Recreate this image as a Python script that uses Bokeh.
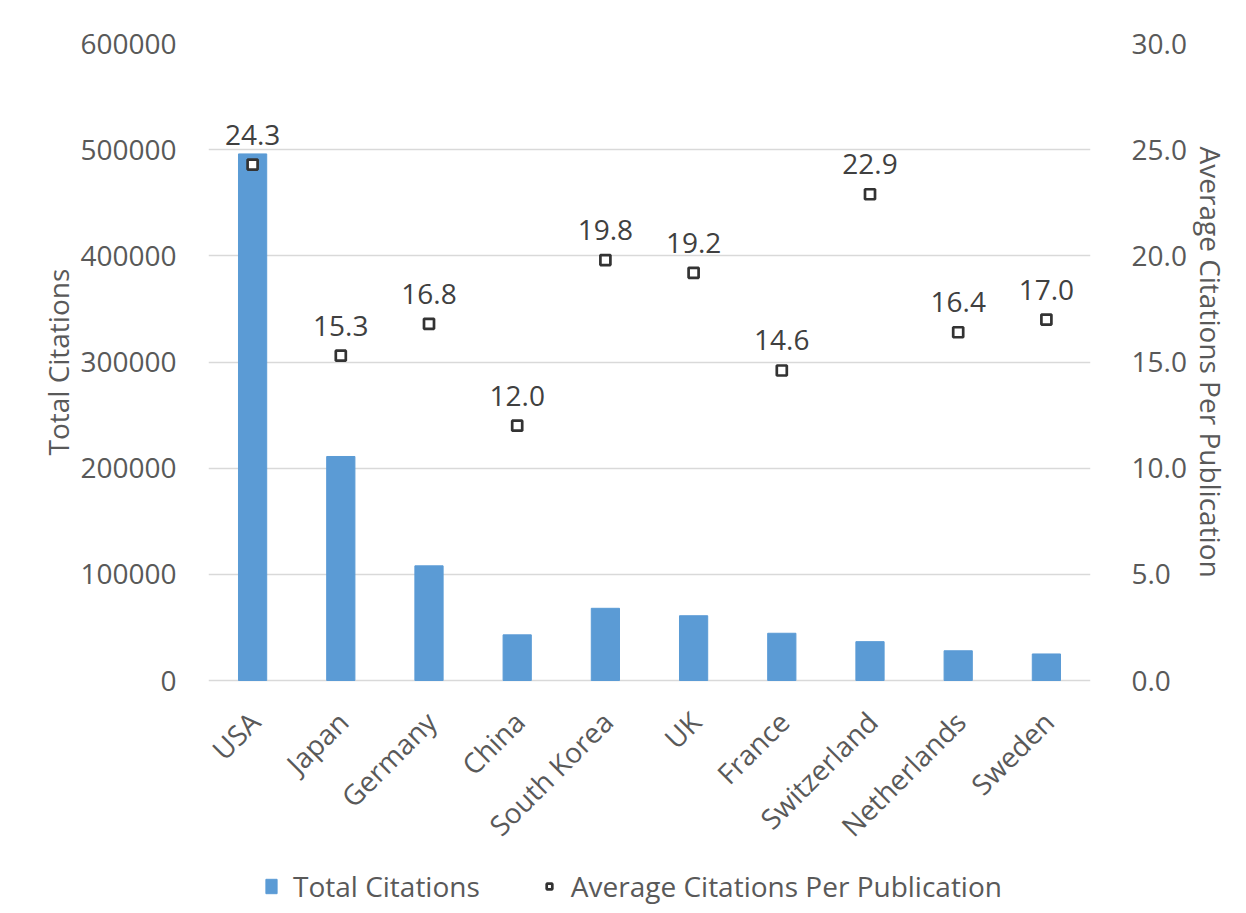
from bokeh.plotting import figure
from bokeh.models import (ColumnDataSource, Range1d, LinearAxis, NumeralTickFormatter,
                          LabelSet, Legend, LegendItem, FactorRange, FixedTicker)
from bokeh.core.properties import value
from bokeh.embed import file_html
from bokeh.resources import INLINE
import math

countries = ["USA", "Japan", "Germany", "China", "South Korea", "UK", "France",
             "Switzerland", "Netherlands", "Sweden"]
total_citations = [496000, 211000, 108000, 43000, 68000, 61000, 44500, 36600, 28000, 25000]
avg_citations = [24.3, 15.3, 16.8, 12.0, 19.8, 19.2, 14.6, 22.9, 16.4, 17.0]
left_ticks = [0, 100000, 200000, 300000, 400000, 500000, 600000]
right_ticks = [0, 5, 10, 15, 20, 25, 30]
left_title = "Total Citations"
right_title = "Average Citations Per Publication"

FONT = "Open Sans"
TXT = "#595959"
FS = "28px"

# layout: plotting area 637 px tall, with 233 px of room below for labels and legend
PLOT_H = 637
BELOW_H = 233
LMAX, RMAX = 600000, 30
lmin = -LMAX * BELOW_H / PLOT_H
rmin = -RMAX * BELOW_H / PLOT_H
PAD = "\u00a0" * 32  # keeps the axis titles centred on the plotting area

src = ColumnDataSource(dict(
    country=countries,
    total=total_citations,
    avg=avg_citations,
    avg_label=["%.1f" % v for v in avg_citations],
    zero=[0] * len(countries),
))

p = figure(frame_width=882, frame_height=PLOT_H + BELOW_H, x_range=FactorRange(*countries),
           y_range=Range1d(lmin, LMAX), output_backend="svg", toolbar_location=None,
           x_axis_location=None,
           min_border_left=208, min_border_right=156, min_border_top=43, min_border_bottom=0)
p.outline_line_color = None
p.background_fill_color = "white"
p.border_fill_color = "white"

p.extra_y_ranges = {"avg": Range1d(rmin, RMAX)}

bars = p.vbar(x="country", top="total", width=0.32, source=src,
              fill_color="#5b9bd5", line_color="#5b9bd5")
pts = p.scatter(x="country", y="avg", source=src, y_range_name="avg", marker="square",
                size=10, fill_color="white", line_color="#333333", line_width=2.7)

labels = LabelSet(x="country", y="avg", text="avg_label", source=src, y_range_name="avg",
                  text_align="center", text_baseline="middle", y_offset=30,
                  text_font=value(FONT), text_font_size=FS, text_color="#404040")
p.add_layout(labels)

cat_labels = LabelSet(x="country", y="zero", text="country", source=src,
                      angle=math.pi / 4, text_align="right", text_baseline="middle",
                      x_offset=2, y_offset=-36,
                      text_font=value(FONT), text_font_size=FS, text_color=TXT)
p.add_layout(cat_labels)

ax = p.yaxis[0]
ax.ticker = FixedTicker(ticks=left_ticks)
ax.formatter = NumeralTickFormatter(format="0")
ax.axis_label = PAD + left_title
ax.bounds = (0, LMAX)

right = LinearAxis(y_range_name="avg", axis_label=right_title + PAD)
right.ticker = FixedTicker(ticks=right_ticks)
right.formatter = NumeralTickFormatter(format="0.0")
right.bounds = (0, RMAX)
p.add_layout(right, "right")

for a in [ax, right]:
    a.axis_line_color = None
    a.major_tick_line_color = None
    a.minor_tick_line_color = None
    a.major_label_text_font = FONT
    a.major_label_text_font_size = FS
    a.major_label_text_color = TXT
    a.axis_label_text_font = FONT
    a.axis_label_text_font_size = FS
    a.axis_label_text_font_style = "normal"
    a.axis_label_text_color = TXT
ax.major_label_standoff = 26
right.major_label_standoff = 35
ax.axis_label_standoff = 0
right.axis_label_standoff = 2

p.xgrid.grid_line_color = None
p.ygrid.grid_line_color = "#d9d9d9"
p.ygrid.grid_line_width = 1.5
p.ygrid.ticker = FixedTicker(ticks=left_ticks)

legend = Legend(items=[LegendItem(label="Total Citations", renderers=[bars]),
                       LegendItem(label="Average Citations Per Publication", renderers=[pts])],
                orientation="horizontal", location=(56, 8),
                label_text_font=FONT, label_text_font_size=FS, label_text_color=TXT,
                border_line_color=None, background_fill_alpha=0,
                glyph_width=14, glyph_height=18, spacing=62, label_standoff=15,
                padding=4, margin=0)
p.add_layout(legend, "center")

open("out.html", "w").write(file_html(p, INLINE))
